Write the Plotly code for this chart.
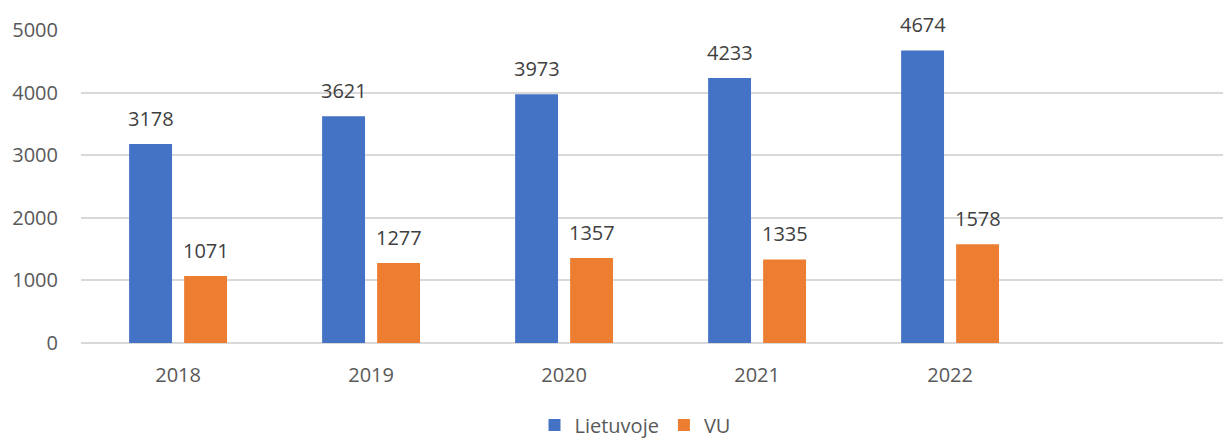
import plotly.graph_objects as go

years = ["2018", "2019", "2020", "2021", "2022"]
lietuvoje = [3178, 3621, 3973, 4233, 4674]
vu = [1071, 1277, 1357, 1335, 1578]
y_ticks = [0, 1000, 2000, 3000, 4000, 5000]

FONT = "Open Sans"
BLUE = "#4472C4"
ORANGE = "#ED7D31"

xpos = list(range(len(years)))
BARGAP = 0.43
GROUPGAP = 0.22
slot = (1 - BARGAP) / 2
offs = [-slot / 2, slot / 2]

fig = go.Figure()
fig.add_trace(go.Bar(x=xpos, y=lietuvoje, name="Lietuvoje", marker_color=BLUE,
                     marker_line_width=0))
fig.add_trace(go.Bar(x=xpos, y=vu, name="VU", marker_color=ORANGE,
                     marker_line_width=0))

annotations = []
for series, off in ((lietuvoje, offs[0]), (vu, offs[1])):
    for i, v in enumerate(series):
        annotations.append(dict(x=i + off, y=v, text=str(v), showarrow=False,
                                xref="x", yref="y", yanchor="bottom", yshift=10,
                                font=dict(family=FONT, size=20, color="#404040")))

# the page body has an 8px default margin, so the figure is sized to fit inside it
fig.update_layout(
    width=1223, height=432,
    margin=dict(l=73, r=3, t=22, b=97, autoexpand=False),
    paper_bgcolor="white", plot_bgcolor="white",
    barmode="group", bargap=BARGAP, bargroupgap=GROUPGAP,
    font=dict(family=FONT, size=20, color="#595959"),
    showlegend=True,
    legend=dict(orientation="h", x=0.483, xanchor="center", y=-0.2, yanchor="top",
                font=dict(family=FONT, size=20, color="#595959"),
                itemwidth=30, traceorder="normal"),
    annotations=annotations,
)
fig.update_xaxes(range=[-0.503, 5.44], tickvals=xpos, ticktext=years,
                 showgrid=False, zeroline=False, showline=False, automargin=False,
                 ticks="outside", ticklen=14, tickcolor="rgba(0,0,0,0)",
                 tickfont=dict(family=FONT, size=20, color="#595959"))
fig.update_yaxes(range=[0, 5000], tickvals=y_ticks, showgrid=True, automargin=False,
                 gridcolor="#D9D9D9", gridwidth=1.5, zeroline=True,
                 zerolinecolor="#D9D9D9", zerolinewidth=1.5, showline=False,
                 ticks="outside", ticklen=18, tickcolor="rgba(0,0,0,0)",
                 tickfont=dict(family=FONT, size=20, color="#595959"))

fig.write_html("out.html")
